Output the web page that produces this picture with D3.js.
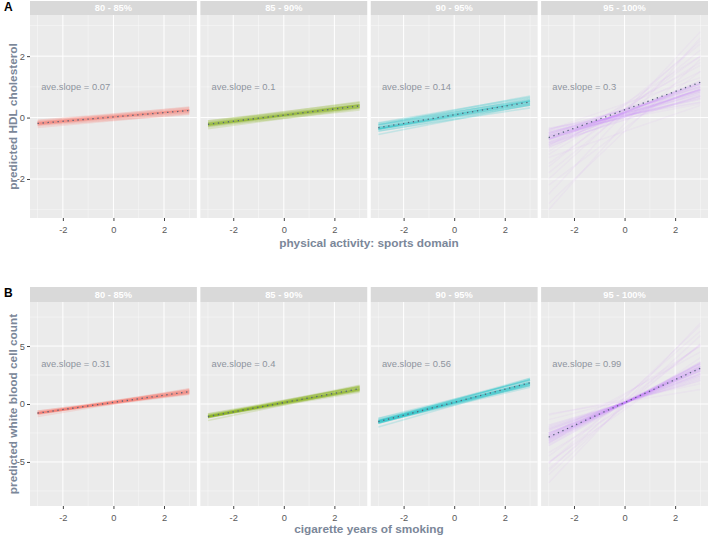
<!DOCTYPE html>
<html><head><meta charset="utf-8">
<script src="https://cdn.jsdelivr.net/npm/d3@7"></script>
<style>
body{margin:0;background:#fff;}
svg{display:block;font-family:"Liberation Sans",Arial,Helvetica,sans-serif;}
</style></head>
<body><svg id="chart" width="709" height="538"></svg>
<script>
// ---------- data ----------
const facetLabels = ["80 - 85%", "85 - 90%", "90 - 95%", "95 - 100%"];
const facetColors = ["#F8766D", "#7CAE00", "#00BFC4", "#C77CFF"];
const xTicks = [-2, 0, 2];
const xMinor = [-3, -1, 1, 3];
const yTicksA = [-2, 0, 2];
const yMinorA = [-3, -1, 1, 3];
const yTicksB = [-5, 0, 5];
const yMinorB = [-7.5, -2.5, 2.5, 7.5];

const aveSlopeA = [0.07, 0.1, 0.14, 0.3];
const aveInterceptA = [0.02, 0.08, 0.09, 0.25];
const aveSlopeB = [0.31, 0.4, 0.56, 0.99];
const aveInterceptB = [0.14, 0.12, 0.15, 0.12];

// individual predicted lines (intercept, slope) per facet: dense core lines
const interceptsA1 = [0.02,-0.08,0.10,-0.04,0.06,0.00,0.04,-0.10,0.12,0.01,-0.02,0.08,0.03,-0.06,0.05,0.02,-0.01,0.07,0.00,0.03];
const slopesA1     = [0.07,0.06,0.08,0.065,0.075,0.07,0.06,0.075,0.07,0.08,0.065,0.06,0.072,0.07,0.068,0.075,0.07,0.078,0.062,0.07];
const interceptsA2 = [0.08,-0.02,0.18,0.03,0.12,0.06,0.10,-0.03,0.19,0.07,0.05,0.15,0.09,0.01,0.13,0.08,0.04,0.14,0.06,0.10];
const slopesA2     = [0.10,0.09,0.11,0.095,0.105,0.10,0.09,0.11,0.10,0.115,0.095,0.085,0.10,0.105,0.098,0.11,0.10,0.108,0.092,0.10];
const interceptsA3 = [0.09,-0.06,0.24,0.01,0.16,0.05,0.13,-0.07,0.25,0.08,0.03,0.19,0.11,-0.02,0.17,0.09,0.04,0.20,0.06,0.12];
const slopesA3     = [0.14,0.125,0.155,0.13,0.15,0.14,0.12,0.16,0.14,0.15,0.135,0.125,0.145,0.14,0.138,0.15,0.14,0.148,0.13,0.14];
const interceptsA4 = [0.075,0.075,0.125,0.15,0.15,0.175,0.175,0.175,0.175,0.15,0.0,0.25,0.025,0.05,0.275,-0.075,0.25,0.025,0.1,0.2,0.12,0.05];
const slopesA4     = [0.142,0.175,0.208,0.233,0.25,0.275,0.292,0.308,0.325,0.35,0.317,0.217,0.208,0.25,0.275,0.258,0.25,0.225,0.27,0.3,0.24,0.29];

const interceptsB1 = [0.14,0.02,0.26,0.08,0.20,0.10,0.18,0.00,0.28,0.12,0.06,0.22,0.15,0.04,0.24,0.13,0.09,0.19,0.11,0.16];
const slopesB1     = [0.31,0.27,0.35,0.29,0.33,0.31,0.26,0.36,0.30,0.34,0.28,0.32,0.31,0.30,0.33,0.29,0.31,0.37,0.25,0.32];
const interceptsB2 = [0.12,-0.06,0.30,0.02,0.22,0.08,0.18,-0.08,0.32,0.10,0.04,0.26,0.14,0.00,0.24,0.12,0.06,0.20,0.09,0.16];
const slopesB2     = [0.40,0.36,0.44,0.38,0.42,0.40,0.35,0.45,0.39,0.43,0.37,0.41,0.40,0.39,0.42,0.38,0.40,0.46,0.34,0.41];
const interceptsB3 = [0.15,-0.08,0.40,0.02,0.30,0.08,0.24,-0.12,0.42,0.12,0.05,0.34,0.18,-0.02,0.32,0.14,0.06,0.27,0.10,0.20];
const slopesB3     = [0.56,0.51,0.61,0.53,0.59,0.56,0.50,0.62,0.55,0.60,0.52,0.58,0.56,0.54,0.59,0.53,0.57,0.64,0.49,0.57];
const interceptsB4 = [0.12,0.05,0.18,0.10,0.08,0.15,0.02,0.20,0.12,0.06,0.14,0.09,0.16,0.04,0.11,0.13,0.07,0.18,0.10,0.12,0.08,0.14];
const slopesB4     = [0.99,0.85,1.10,0.92,1.05,0.78,1.20,0.95,0.70,1.15,0.88,1.00,0.82,1.08,0.97,0.75,1.12,0.90,1.02,0.65,0.94,1.04];

// sparse, widely spread lines (only in the 95 - 100% facets)
const spreadInterceptsA4 = [0.25,0.25,0.15,-0.2,0.3,0.2,0.4,0.45,-0.35,0.25,-0.45,-0.025,-0.45,0.45,0.4];
const spreadSlopesA4     = [0.583,0.75,0.883,0.933,0.5,0.667,0.433,0.517,0.617,0.417,0.783,0.158,0.283,0.283,0.667];
const spreadInterceptsB4 = [0.3,0.5,-0.2,0.8,0.1,-0.5,0.4,0.6,-0.3,0.2,0.0,0.9,-0.1,0.3];
const spreadSlopesB4     = [1.6,2.1,1.8,1.4,2.3,1.5,0.45,1.9,1.3,0.35,1.7,1.2,2.0,0.55];

const xRangeData = [-3, 3];

// ---------- layout ----------
const svg = d3.select("#chart");
const left = 30, right = 708, gap = 3.5;
const facetW = (right - left - 3 * gap) / 4;
const x = d3.scaleLinear().domain([-3.3, 3.3]).range([0, facetW]);
const titleColor = "#7b8799";
const textGrey = "#8e949e";

const blocks = [
  { label: "A", labelY: 11, stripTop: 1, top: 15, bottom: 218,
    yDomain: [-3.27, 3.34], yTicks: yTicksA, yMinor: yMinorA, annotY: 1,
    intercepts: [interceptsA1, interceptsA2, interceptsA3, interceptsA4],
    slopes: [slopesA1, slopesA2, slopesA3, slopesA4],
    spreadI: [[], [], [], spreadInterceptsA4], spreadS: [[], [], [], spreadSlopesA4],
    aveS: aveSlopeA, aveI: aveInterceptA,
    xTitle: "physical activity: sports domain", xTitleY: 247,
    yTitle: "predicted HDL cholesterol" },
  { label: "B", labelY: 297, stripTop: 287, top: 302, bottom: 506,
    yDomain: [-8.8, 8.8], yTicks: yTicksB, yMinor: yMinorB, annotY: 3.5,
    intercepts: [interceptsB1, interceptsB2, interceptsB3, interceptsB4],
    slopes: [slopesB1, slopesB2, slopesB3, slopesB4],
    spreadI: [[], [], [], spreadInterceptsB4], spreadS: [[], [], [], spreadSlopesB4],
    aveS: aveSlopeB, aveI: aveInterceptB,
    xTitle: "cigarette years of smoking", xTitleY: 533,
    yTitle: "predicted white blood cell count" }
];

blocks.forEach((b, bi) => {
  const y = d3.scaleLinear().domain(b.yDomain).range([b.bottom, b.top]);
  const ph = b.bottom - b.top;

  svg.append("text").attr("x", 4).attr("y", b.labelY)
    .attr("font-size", 12).attr("font-weight", "bold").attr("fill", "#000").text(b.label);

  for (let k = 0; k < 4; k++) {
    const g = svg.append("g").attr("transform", `translate(${left + k * (facetW + gap)},0)`);
    // strip
    g.append("rect").attr("x", 0).attr("y", b.stripTop).attr("width", facetW)
      .attr("height", b.top - b.stripTop).attr("fill", "#d9d9d9");
    g.append("text").attr("x", facetW / 2).attr("y", (b.stripTop + b.top) / 2 + 3.3)
      .attr("text-anchor", "middle").attr("font-size", 9.3).attr("font-weight", "bold")
      .attr("fill", "#ffffff").text(facetLabels[k]);
    // panel
    g.append("rect").attr("x", 0).attr("y", b.top).attr("width", facetW)
      .attr("height", ph).attr("fill", "#ebebeb");
    // grid
    g.selectAll(null).data(xMinor).enter().append("line")
      .attr("x1", d => x(d)).attr("x2", d => x(d)).attr("y1", b.top).attr("y2", b.bottom)
      .attr("stroke", "#fff").attr("stroke-width", 0.5).attr("opacity", 0.8);
    g.selectAll(null).data(b.yMinor).enter().append("line")
      .attr("x1", 0).attr("x2", facetW).attr("y1", d => y(d)).attr("y2", d => y(d))
      .attr("stroke", "#fff").attr("stroke-width", 0.5).attr("opacity", 0.8);
    g.selectAll(null).data(xTicks).enter().append("line")
      .attr("x1", d => x(d)).attr("x2", d => x(d)).attr("y1", b.top).attr("y2", b.bottom)
      .attr("stroke", "#fff").attr("stroke-width", 1);
    g.selectAll(null).data(b.yTicks).enter().append("line")
      .attr("x1", 0).attr("x2", facetW).attr("y1", d => y(d)).attr("y2", d => y(d))
      .attr("stroke", "#fff").attr("stroke-width", 1);

    // clip
    const cid = `clip${bi}${k}`;
    g.append("clipPath").attr("id", cid).append("rect")
      .attr("x", 0).attr("y", b.top).attr("width", facetW).attr("height", ph);
    const lg = g.append("g").attr("clip-path", `url(#${cid})`);
    const line = d3.line().x(d => x(d[0])).y(d => y(d[1]));

    // sparse spread lines (very faint)
    const sI = b.spreadI[k], sS = b.spreadS[k];
    lg.selectAll(null).data(sI.map((c, i) => xRangeData.map(xv => [xv, c + sS[i] * xv])))
      .enter().append("path").attr("d", line).attr("fill", "none")
      .attr("stroke", facetColors[k]).attr("stroke-width", 1.4).attr("stroke-opacity", 0.06);

    // core lines
    const ints = b.intercepts[k], sls = b.slopes[k];
    lg.selectAll(null).data(ints.map((c, i) => xRangeData.map(xv => [xv, c + sls[i] * xv])))
      .enter().append("path").attr("d", line).attr("fill", "none")
      .attr("stroke", facetColors[k]).attr("stroke-width", 1.6)
      .attr("stroke-opacity", k === 3 ? 0.12 : 0.17);

    // average dotted line
    const ave = xRangeData.map(xv => [xv, b.aveI[k] + b.aveS[k] * xv]);
    lg.append("path").attr("d", line(ave)).attr("fill", "none")
      .attr("stroke", "#56637a").attr("stroke-width", 1.3)
      .attr("stroke-dasharray", "1.3,3.7").attr("stroke-linecap", "butt");

    // annotation
    g.append("text").attr("x", x(-2.86)).attr("y", y(b.annotY) + 3.4)
      .attr("font-size", 9.4).attr("fill", textGrey)
      .text("ave.slope = " + b.aveS[k]);

    // x axis
    const xa = g.append("g").attr("transform", `translate(0,${b.bottom})`)
      .call(d3.axisBottom(x).tickValues(xTicks).tickSize(3).tickPadding(5)
        .tickFormat(d => d < 0 ? "-" + Math.abs(d) : String(d)));
    xa.select(".domain").remove();
    xa.selectAll("line").attr("stroke", "#444");
    xa.selectAll("text").attr("font-size", 9.3).attr("fill", "#5a5a5a")
      .attr("font-family", "Liberation Sans, Arial, sans-serif");

    if (k === 0) {
      const ya = g.append("g")
        .call(d3.axisLeft(y).tickValues(b.yTicks).tickSize(3).tickPadding(2)
          .tickFormat(d => d < 0 ? "-" + Math.abs(d) : String(d)));
      ya.select(".domain").remove();
      ya.selectAll("line").attr("stroke", "#444");
      ya.selectAll("text").attr("font-size", 9.3).attr("fill", "#5a5a5a")
        .attr("font-family", "Liberation Sans, Arial, sans-serif");
    }
  }

  // axis titles
  svg.append("text").attr("x", (left + right) / 2).attr("y", b.xTitleY)
    .attr("text-anchor", "middle").attr("font-size", 11.8).attr("font-weight", "bold")
    .attr("fill", titleColor).text(b.xTitle);
  svg.append("text")
    .attr("transform", `translate(17,${(b.top + b.bottom) / 2}) rotate(-90)`)
    .attr("text-anchor", "middle").attr("font-size", 11.8).attr("font-weight", "bold")
    .attr("fill", titleColor).text(b.yTitle);
});
</script></body></html>
